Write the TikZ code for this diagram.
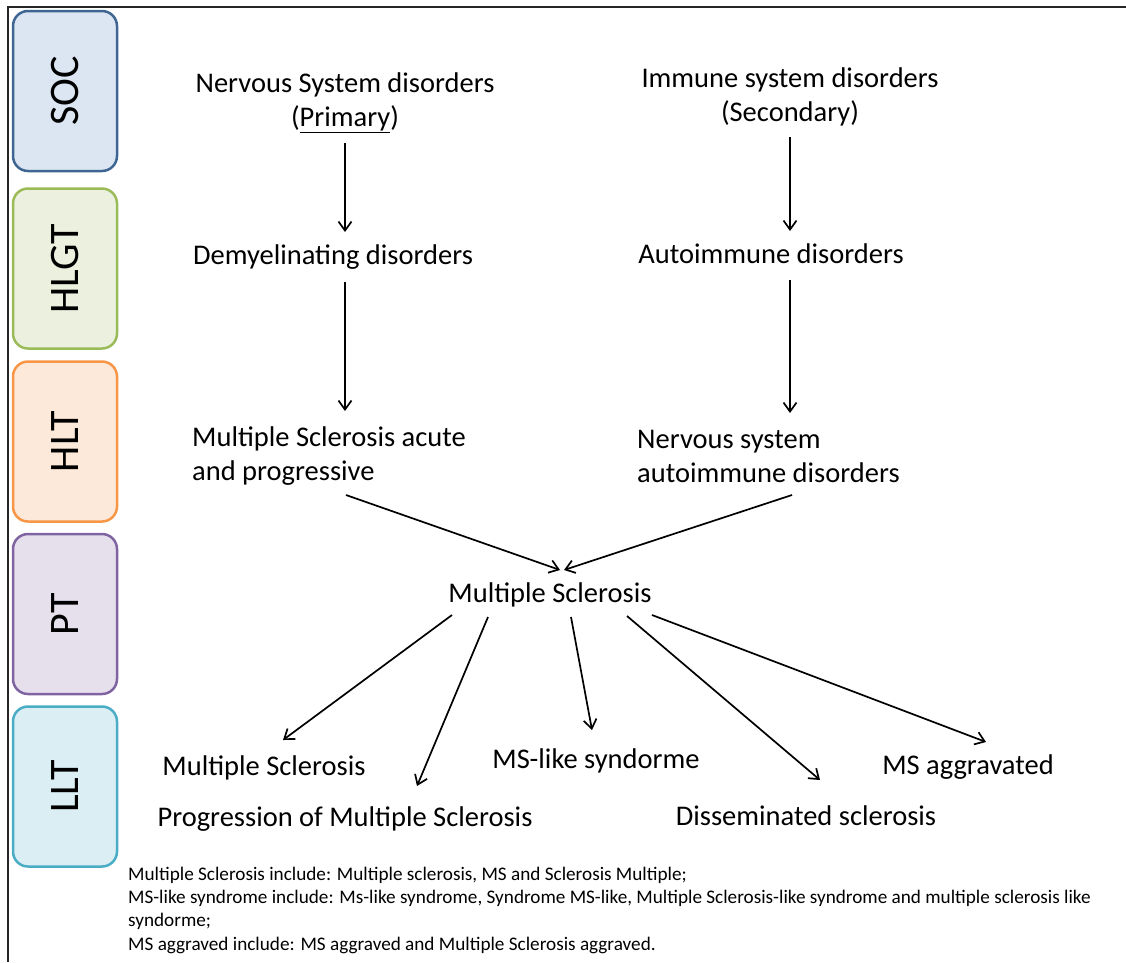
\documentclass[tikz,border=0pt]{standalone}
\usepackage{fontspec}
\setmainfont{Carlito}
\usetikzlibrary{arrows.meta,calc}
\definecolor{socfill}{HTML}{DCE6F2}
\definecolor{socline}{HTML}{3F6592}
\definecolor{hlgtfill}{HTML}{EBF1DE}
\definecolor{hlgtline}{HTML}{9BBB59}
\definecolor{hltfill}{HTML}{FDE9D9}
\definecolor{hltline}{HTML}{F79646}
\definecolor{ptfill}{HTML}{E5E0EC}
\definecolor{ptline}{HTML}{8064A2}
\definecolor{lltfill}{HTML}{DAEEF3}
\definecolor{lltline}{HTML}{4BACC6}
\tikzset{
  tierbox/.style={draw, rounded corners=15pt, line width=2.5pt, rotate=90, minimum width=160pt, minimum height=104pt, inner sep=0pt, font=\fontsize{42}{50}\selectfont},
  term/.style={inner sep=0pt, font=\fontsize{28.5}{34.5}\selectfont},
  note/.style={inner sep=0pt, align=left, font=\fontsize{19.2}{23.3}\selectfont},
  arrow/.style={-{Straight Barb[length=9pt,width=13pt]}, line width=1.7pt}
}

\begin{document}
\begin{tikzpicture}[x=1pt,y=-1pt]
  \useasboundingbox (0,0) rectangle (1126,962);
  \draw[line width=2pt, black!85] (1126,7) -- (8,7) -- (8,962);

  % MedDRA levels
  \node[tierbox, draw=socline, fill=socfill] (soc) at (65,91) {SOC};
  \node[tierbox, draw=hlgtline, fill=hlgtfill] (hlgt) at (65,268.5) {HLGT};
  \node[tierbox, draw=hltline, fill=hltfill] (hlt) at (65,441.5) {HLT};
  \node[tierbox, draw=ptline, fill=ptfill] (pt) at (65,614) {PT};
  \node[tierbox, draw=lltline, fill=lltfill] (llt) at (65,786.5) {LLT};

  % terms (base = last line)
  \node[term, align=center, anchor=base] (nervous) at (345,126.5) {Nervous System disorders\\(\underline{Primary})};
  \node[term, align=center, anchor=base] (immune) at (790,121.5) {Immune system disorders\\(Secondary)};
  \node[term, anchor=base] (demyel) at (333,264) {Demyelinating disorders};
  \node[term, anchor=base] (autoimm) at (771,263) {Autoimmune disorders};
  \node[term, align=left, anchor=base west] (msacute) at (192,480.5) {Multiple Sclerosis acute\\and progressive};
  \node[term, align=left, anchor=base west] (nsauto) at (637,482.5) {Nervous system\\autoimmune disorders};
  \node[term, anchor=base] (ms) at (550,602) {Multiple Sclerosis};
  \node[term, anchor=base] (lltms) at (264,775) {Multiple Sclerosis};
  \node[term, anchor=base] (progr) at (345,826) {Progression of Multiple Sclerosis};
  \node[term, anchor=base] (mslike) at (596,768) {MS-like syndorme};
  \node[term, anchor=base] (dissem) at (806,825) {Disseminated sclerosis};
  \node[term, anchor=base] (msaggr) at (968,774) {MS aggravated};

  \node[note, anchor=base west] (footnote) at (128,950) {Multiple Sclerosis include: Multiple sclerosis, MS and Sclerosis Multiple;\\
    MS-like syndrome include: Ms-like syndrome, Syndrome MS-like, Multiple Sclerosis-like syndrome and multiple sclerosis like\\
    syndorme;\\
    MS aggraved include: MS aggraved and Multiple Sclerosis aggraved.};

  \draw[arrow] ($(nervous.base)+(0,16.5)$) -- ($(demyel.base)+(12,-32)$);
  \draw[arrow] ($(immune.base)+(0,15.5)$) -- ($(autoimm.base)+(19,-32)$);
  \draw[arrow] ($(demyel.base)+(12,18)$) -- ($(msacute.base west)+(153,-69.5)$);
  \draw[arrow] ($(autoimm.base)+(19,17)$) -- ($(nsauto.base west)+(153,-69.5)$);
  \draw[arrow] ($(msacute.base west)+(154,14.5)$) -- ($(ms.base)+(10,-32)$);
  \draw[arrow] ($(nsauto.base west)+(155,12.5)$) -- ($(ms.base)+(14,-32)$);
  \draw[arrow] ($(ms.base)+(-98,13)$) -- ($(lltms.base)+(19,-35)$);
  \draw[arrow] ($(ms.base)+(-62,15)$) -- ($(progr.base)+(72,-40)$);
  \draw[arrow] ($(ms.base)+(21,15)$) -- ($(mslike.base)+(-4,-38)$);
  \draw[arrow] ($(ms.base)+(77,14)$) -- ($(dissem.base)+(14,-45)$);
  \draw[arrow] ($(ms.base)+(102,13)$) -- ($(msaggr.base)+(18,-32)$);
\end{tikzpicture}
\end{document}
